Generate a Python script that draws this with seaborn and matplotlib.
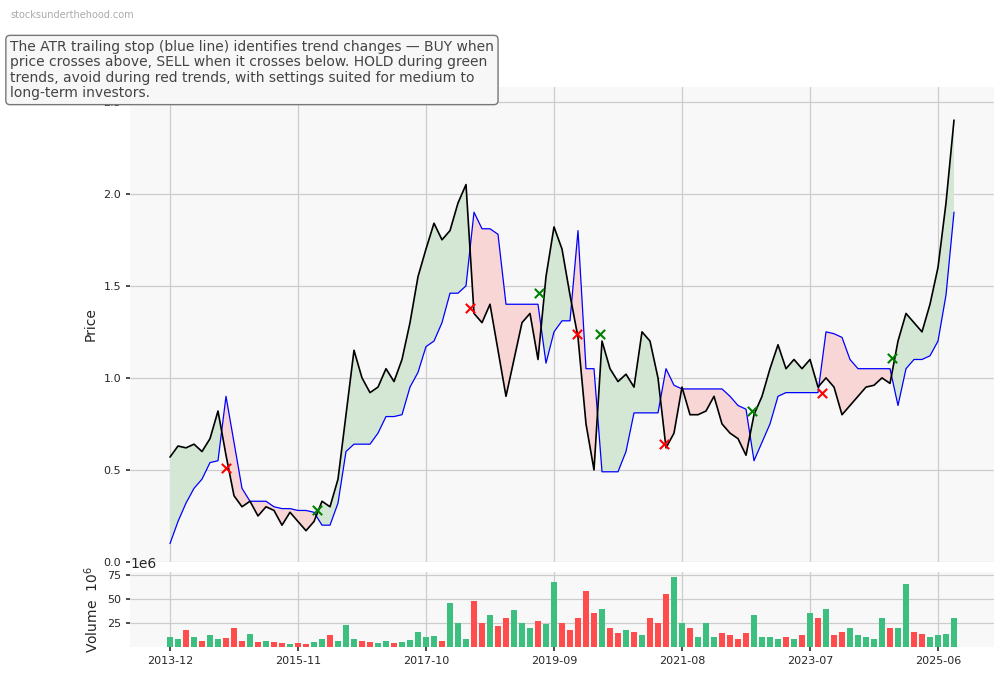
import numpy as np
import pandas as pd
import matplotlib.pyplot as plt
import seaborn as sns

# weekly index (one sample every 6.25 weeks), start 2013-12-02
START = "2013-12-02"
STEP_WEEKS = 6.25

price = [0.57, 0.63, 0.62, 0.64, 0.60, 0.67, 0.82, 0.58, 0.36, 0.30,
         0.33, 0.25, 0.30, 0.28, 0.20, 0.27, 0.22, 0.17, 0.22, 0.33,
         0.30, 0.45, 0.80, 1.15, 1.00, 0.92, 0.95, 1.05, 0.98, 1.10,
         1.30, 1.55, 1.70, 1.84, 1.75, 1.80, 1.95, 2.05, 1.35, 1.30,
         1.40, 1.15, 0.90, 1.10, 1.30, 1.35, 1.10, 1.55, 1.82, 1.70,
         1.45, 1.22, 0.75, 0.50, 1.20, 1.05, 0.98, 1.02, 0.95, 1.25,
         1.20, 1.00, 0.62, 0.70, 0.95, 0.80, 0.80, 0.82, 0.90, 0.75,
         0.70, 0.67, 0.58, 0.80, 0.90, 1.05, 1.18, 1.05, 1.10, 1.05,
         1.10, 0.95, 1.00, 0.95, 0.80, 0.85, 0.90, 0.95, 0.96, 1.00,
         0.97, 1.20, 1.35, 1.30, 1.25, 1.40, 1.60, 1.95, 2.40]

stop = [0.10, 0.22, 0.32, 0.40, 0.45, 0.54, 0.55, 0.90, 0.65, 0.40,
        0.33, 0.33, 0.33, 0.30, 0.29, 0.29, 0.28, 0.28, 0.27, 0.20,
        0.20, 0.32, 0.60, 0.64, 0.64, 0.64, 0.70, 0.79, 0.79, 0.80,
        0.95, 1.03, 1.17, 1.20, 1.30, 1.46, 1.46, 1.50, 1.90, 1.81,
        1.81, 1.78, 1.40, 1.40, 1.40, 1.40, 1.40, 1.08, 1.25, 1.31,
        1.31, 1.80, 1.05, 1.05, 0.49, 0.49, 0.49, 0.60, 0.81, 0.81,
        0.81, 0.81, 1.05, 0.96, 0.94, 0.94, 0.94, 0.94, 0.94, 0.94,
        0.90, 0.85, 0.83, 0.55, 0.65, 0.75, 0.90, 0.92, 0.92, 0.92,
        0.92, 0.92, 1.25, 1.24, 1.22, 1.10, 1.05, 1.05, 1.05, 1.05,
        1.05, 0.85, 1.05, 1.10, 1.10, 1.12, 1.20, 1.45, 1.90]

volume_m = [10, 8, 18, 10, 6, 12, 8, 9, 20, 6,
            14, 5, 6, 5, 4, 3, 4, 3, 5, 8,
            13, 6, 23, 8, 6, 5, 4, 6, 4, 5,
            7, 16, 10, 11, 6, 46, 25, 8, 48, 25,
            33, 22, 30, 38, 25, 20, 27, 24, 68, 25,
            18, 30, 58, 35, 40, 20, 15, 18, 16, 13,
            30, 25, 55, 73, 25, 20, 10, 25, 10, 15,
            12, 8, 15, 33, 10, 10, 8, 10, 8, 12,
            35, 30, 40, 12, 16, 20, 12, 10, 8, 30,
            20, 20, 66, 16, 14, 10, 13, 14, 30]

# signals (week index, price)
buy_weeks = [115, 288, 336, 455, 564]
buy_prices = [0.28, 1.46, 1.24, 0.82, 1.11]
sell_weeks = [44, 234, 318, 386, 509]
sell_prices = [0.51, 1.38, 1.24, 0.64, 0.92]

tick_weeks = [0, 100, 200, 300, 400, 500, 600]

df = pd.DataFrame({
    "week": np.arange(len(price)) * STEP_WEEKS,
    "price": price,
    "stop": stop,
    "volume": np.array(volume_m) * 1e6,
})
df["up"] = df["price"].diff().fillna(0) >= 0

sns.set_theme(style="whitegrid")
plt.rcParams["font.family"] = ["DejaVu Sans"]

fig = plt.figure(figsize=(10.04, 6.78), dpi=100)
W, H = 1004, 678
ax = fig.add_axes([130 / W, 1 - 562 / H, 864 / W, 475 / H])
axv = fig.add_axes([130 / W, 1 - 647 / H, 864 / W, 75 / H], sharex=ax)

for a in (ax, axv):
    a.set_facecolor("#f8f8f8")
    a.grid(True, color="#cccccc", linewidth=0.9)
    for s in a.spines.values():
        s.set_visible(False)
    a.tick_params(labelsize=8, length=3, color="#333333", left=True, bottom=True)
ax.tick_params(bottom=False)

ax.fill_between(df["week"], df["price"], df["stop"], where=df["price"] >= df["stop"],
                interpolate=True, color="#d4e7d4", linewidth=0)
ax.fill_between(df["week"], df["price"], df["stop"], where=df["price"] < df["stop"],
                interpolate=True, color="#f9d6d6", linewidth=0)
sns.lineplot(data=df, x="week", y="stop", ax=ax, color="blue", linewidth=0.9)
sns.lineplot(data=df, x="week", y="price", ax=ax, color="black", linewidth=1.2)
ax.scatter(buy_weeks, buy_prices, marker="x", color="green", s=45, zorder=5, linewidths=1.5)
ax.scatter(sell_weeks, sell_prices, marker="x", color="red", s=45, zorder=5, linewidths=1.5)

ax.set_xlim(-31.25, 643.75)
ax.set_ylim(0, 2.58)
ax.set_yticks([0.0, 0.5, 1.0, 1.5, 2.0, 2.5])
ax.set_ylabel("Price", fontsize=10)
ax.set_xlabel("")
plt.setp(ax.get_xticklabels(), visible=False)

colors = ["#3dbf7f" if u else "#ff4c4c" for u in df["up"]]
axv.bar(df["week"], df["volume"], width=STEP_WEEKS * 0.7, color=colors, linewidth=0)
axv.set_ylim(0, 78e6)
axv.set_yticks([25e6, 50e6, 75e6])
axv.ticklabel_format(axis="y", style="sci", scilimits=(6, 6))
axv.yaxis.get_offset_text().set_fontsize(10)
axv.set_ylabel("Volume  $10^6$", fontsize=10)
axv.set_xticks(tick_weeks)
axv.set_xticklabels([(pd.Timestamp(START) + pd.Timedelta(weeks=w)).strftime("%Y-%m") for w in tick_weeks])

fig.text(10 / W, 1 - 15 / H, "stocksunderthehood.com", fontsize=7, color="#aaaaaa", va="center")
fig.text(10 / W, 1 - 70 / H,
         "The ATR trailing stop (blue line) identifies trend changes \u2014 BUY when\n"
         "price crosses above, SELL when it crosses below. HOLD during green\n"
         "trends, avoid during red trends, with settings suited for medium to\n"
         "long-term investors.",
         fontsize=10, color="#444444", va="center", ha="left", linespacing=1.15,
         bbox=dict(boxstyle="round,pad=0.3", facecolor="#f7f7f7", edgecolor="#777777"))

fig.savefig("out.png", dpi=100)
